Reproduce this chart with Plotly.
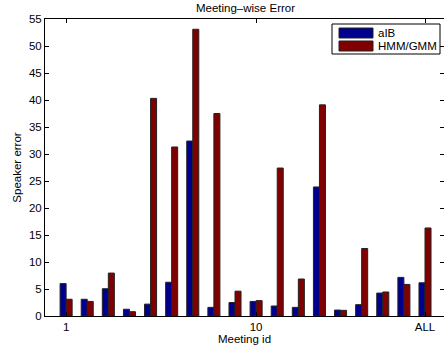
import plotly.graph_objects as go

meetings = list(range(1, 19))
tick_vals = [1, 10, 18]
tick_text = ["1", "10", "ALL"]
series_names = ["aIB", "HMM/GMM"]
series_colors = ["#00008F", "#800000"]
aib = [6.0, 3.1, 5.05, 1.25, 2.2, 6.25, 32.4, 1.6, 2.5, 2.7, 1.85, 1.6, 23.9, 1.1, 2.1, 4.25, 7.15, 6.15]
hmm_gmm = [3.1, 2.7, 7.95, 0.8, 40.3, 31.3, 53.1, 37.5, 4.6, 2.85, 27.4, 6.85, 39.1, 1.05, 12.5, 4.45, 5.85, 16.3]

FONT = "Liberation Sans, Arial, Helvetica, sans-serif"
FS = 11.5

W, H = 444, 347
L, R, T, B = 45, 0, 19, 31
PW, PH = W - L - R, H - T - B


def px_x(X):
    return (X - L) / PW


def px_y(Y):
    return (H - B - Y) / PH


fig = go.Figure()
for name, vals, col in zip(series_names, [aib, hmm_gmm], series_colors):
    fig.add_trace(go.Bar(x=meetings, y=vals, name=name, showlegend=False,
                         marker=dict(color=col, line=dict(color="#222222", width=1))))

# legend box drawn in MATLAB style
shapes = [dict(type="rect", xref="paper", yref="paper",
               x0=px_x(332), x1=px_x(440), y0=px_y(54), y1=px_y(24),
               line=dict(color="black", width=1), fillcolor="white", layer="above")]
annotations = []
for i, (name, col) in enumerate(zip(series_names, series_colors)):
    cy = 33 + 13 * i
    shapes.append(dict(type="rect", xref="paper", yref="paper",
                       x0=px_x(339), x1=px_x(373), y0=px_y(cy + 5), y1=px_y(cy - 5),
                       line=dict(color="#222222", width=1), fillcolor=col, layer="above"))
    annotations.append(dict(text=name, xref="paper", yref="paper",
                            x=px_x(376), y=px_y(cy), xanchor="left", yanchor="middle",
                            showarrow=False, font=dict(size=FS, family=FONT, color="black")))

fig.update_layout(
    width=W, height=H,
    margin=dict(l=L, r=R, t=T, b=B),
    paper_bgcolor="white", plot_bgcolor="white",
    font=dict(family=FONT, size=FS, color="black"),
    barmode="group", bargap=0.43, bargroupgap=0.0,
    title=dict(text="Meeting\u2013wise Error", x=245.5 / W, xanchor="center",
               y=1 - 8 / H, yanchor="middle", font=dict(size=FS, family=FONT)),
    shapes=shapes,
    annotations=annotations,
    xaxis=dict(range=[0, 18.9], tickvals=tick_vals, ticktext=tick_text,
               showline=True, linecolor="black", linewidth=1, mirror="allticks",
               ticks="inside", ticklen=4, tickcolor="black", showgrid=False, zeroline=False,
               tickfont=dict(size=FS),
               title=dict(text="Meeting id", standoff=2, font=dict(size=FS))),
    yaxis=dict(range=[0, 55], dtick=5, tick0=0,
               showline=True, linecolor="black", linewidth=1, mirror="allticks",
               ticks="inside", ticklen=4, tickcolor="black", showgrid=False, zeroline=False,
               tickfont=dict(size=FS),
               title=dict(text="Speaker error", standoff=4, font=dict(size=FS))),
)

fig.write_html("out.html", config={"displayModeBar": False},
               post_script="document.body.style.margin='0';document.body.style.overflow='hidden';")
